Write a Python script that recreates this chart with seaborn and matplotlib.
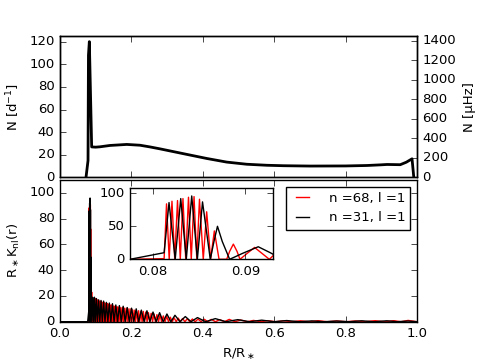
import numpy as np
import pandas as pd
import seaborn as sns
from matplotlib import pyplot as plt

plt.style.use('classic')
plt.rcParams.update({'figure.facecolor': 'white', 'savefig.facecolor': 'white',
                     'font.family': 'DejaVu Sans', 'font.size': 9.5,
                     'mathtext.fontset': 'dejavusans', 'mathtext.default': 'regular'})

# Brunt-Vaisala frequency profile (d^-1) vs fractional radius
n_r = [0.0728, 0.0785, 0.0797, 0.0822, 0.0887, 0.1000, 0.1120, 0.1400, 0.1870, 0.2240,
       0.2520, 0.2800, 0.3460, 0.4110, 0.4670, 0.5230, 0.5790, 0.6260, 0.7000, 0.8000,
       0.8600, 0.9000, 0.9160, 0.9530, 0.9700, 0.9860, 0.9910]
n_val = [0, 15, 108, 120, 27, 26.8, 27.1, 28.3, 29.2, 28.5,
         27.0, 25.3, 21.0, 16.8, 13.6, 11.7, 10.8, 10.4, 10.1, 10.2,
         10.6, 11.2, 11.5, 11.3, 13.5, 16.5, 0]
d_to_muhz = 11.574

# kernel n=68, l=1 (red): maxima and nodes
red_peak_r = [0.0812, 0.08146, 0.08205, 0.08265, 0.08324, 0.08384, 0.08444, 0.08503, 0.08581,
              0.08664, 0.0883, 0.0887, 0.0891, 0.0902, 0.0910, 0.0918, 0.0938,
              0.0962, 0.0987, 0.1013, 0.1040, 0.1068, 0.1097, 0.1127, 0.1158, 0.1190, 0.1223,
              0.1257, 0.1292, 0.1328, 0.1365, 0.1403, 0.1442, 0.1482, 0.1524, 0.1567, 0.1611,
              0.1656, 0.1703, 0.1751, 0.1801, 0.1853, 0.1906, 0.1961, 0.2018, 0.2077, 0.2138,
              0.2201, 0.2266, 0.2334, 0.2404, 0.2477, 0.2553, 0.2632, 0.2715, 0.2802, 0.2893,
              0.2989, 0.3090, 0.3197, 0.3311, 0.3433, 0.3565, 0.3708, 0.3865, 0.4040, 0.4240,
              0.4470, 0.4740, 0.5060, 0.5420, 0.5820, 0.6260, 0.6730, 0.7230, 0.7750, 0.8280,
              0.8820, 0.9350, 0.9750]
red_peak_k = [1, 84, 88, 89, 92, 94, 95, 91, 72,
              43, 12, 23, 12, 9, 18, 9, 16,
              18, 18, 17.5, 17, 16.5, 16, 16, 15.5, 15, 15,
              14.5, 14, 14, 13.5, 13, 13, 12.5, 12, 12, 11.5,
              11.5, 11, 11, 10.5, 10.5, 10, 10, 9.5, 9, 9,
              8.5, 8, 8, 7.5, 7, 6.5, 6, 5.5, 5, 4.5,
              4, 3.5, 3, 2.8, 2.5, 2.3, 2.1, 2, 1.9, 1.8,
              1.6, 1.8, 1.3, 1.0, 0.8, 0.7, 0.7, 0.8, 0.6, 0.6,
              0.8, 0.8, 1.0]
red_nodes = [0.0, 0.0775, 0.08175, 0.08235, 0.08295, 0.08354, 0.08414, 0.08474, 0.08544,
             0.08624, 0.08715, 0.08798, 0.08942, 0.0926, 0.0950,
             0.0975, 0.1000, 0.1026, 0.1054, 0.1082, 0.1112, 0.1142, 0.1174, 0.1206, 0.1240,
             0.1274, 0.1310, 0.1346, 0.1384, 0.1422, 0.1462, 0.1503, 0.1545, 0.1589, 0.1633,
             0.1680, 0.1727, 0.1776, 0.1827, 0.1880, 0.1933, 0.1990, 0.2047, 0.2107, 0.2170,
             0.2233, 0.2300, 0.2369, 0.2440, 0.2515, 0.2592, 0.2673, 0.2758, 0.2847, 0.2941,
             0.3040, 0.3143, 0.3254, 0.3372, 0.3499, 0.3636, 0.3786, 0.3952, 0.4140, 0.4355,
             0.4605, 0.4900, 0.5240, 0.5620, 0.6040, 0.6495, 0.6980, 0.7490, 0.8015, 0.8550,
             0.9085, 0.9550, 1.0]

# kernel n=31, l=1 (black)
blk_peak_r = [0.0812, 0.08173, 0.08300, 0.08419, 0.08536, 0.0866, 0.08698, 0.0875, 0.0897,
              0.0914, 0.0927, 0.0965, 0.1020, 0.1082, 0.1150, 0.1222, 0.1300, 0.1382, 0.1470,
              0.1563, 0.1663, 0.1770, 0.1883, 0.2004, 0.2135, 0.2278, 0.2435, 0.2605, 0.2790,
              0.2995, 0.3220, 0.3510, 0.3850, 0.4350, 0.4980, 0.5650, 0.6350, 0.7050, 0.7750,
              0.8450, 0.9150, 0.9750]
blk_peak_k = [10, 86, 92, 96, 87, 27, 50, 27, 9,
              19, 10, 19, 18, 17, 16.5, 16, 15, 14.5, 14,
              13, 12.5, 12, 11, 10.5, 10, 9, 8.5, 7.5, 7,
              6, 5, 4, 3.2, 2.4, 1.6, 1.2, 0.9, 0.6, 0.5,
              0.7, 0.7, 0.5]
blk_nodes = [0.0, 0.0775, 0.0824, 0.0836, 0.0848, 0.0862, 0.0883, 0.0940, 0.0992, 0.1050,
             0.1115, 0.1185, 0.1260, 0.1340, 0.1425, 0.1515, 0.1612, 0.1715, 0.1825, 0.1942,
             0.2068, 0.2205, 0.2355, 0.2518, 0.2695, 0.2890, 0.3105, 0.3360, 0.3670, 0.4080,
             0.4650, 0.5310, 0.6000, 0.6700, 0.7400, 0.8100, 0.8800, 0.9450, 1.0]


def kernel(peak_r, peak_k, nodes):
    df = pd.DataFrame({'r': list(peak_r) + list(nodes),
                       'k': list(peak_k) + [0.0] * len(nodes)})
    return df.sort_values('r').reset_index(drop=True)


red = kernel(red_peak_r, red_peak_k, red_nodes)
blk = kernel(blk_peak_r, blk_peak_k, blk_nodes)
bv = pd.DataFrame({'r': n_r, 'N': n_val})

fig = plt.figure(figsize=(4.8, 3.62), dpi=100)
ax_top = fig.add_axes([0.125, 0.5097, 0.7438, 0.3909])
ax_bot = fig.add_axes([0.125, 0.1113, 0.7438, 0.3915])
ax_in = fig.add_axes([0.2708, 0.2837, 0.298, 0.1978])

# top panel
sns.lineplot(data=bv, x='r', y='N', color='k', lw=2, ax=ax_top, estimator=None, sort=False)
ax_top.set_xlim(0, 1)
ax_top.set_ylim(0, 125)
ax_top.set_yticks(np.arange(0, 121, 20))
ax_top.set_xticks(np.arange(0, 1.01, 0.2))
ax_top.set_xticklabels([])
ax_top.set_xlabel('')
ax_top.set_ylabel('N [d$^{-1}$]')
ax_top.tick_params(right=False)
tw = ax_top.twinx()
tw.set_ylim(0, 125 * d_to_muhz)
tw.set_yticks(np.arange(0, 1401, 200))
tw.set_ylabel('N [μHz]')
tw.tick_params(left=False)

# bottom panel
sns.lineplot(data=red, x='r', y='k', color='r', lw=1, ax=ax_bot, estimator=None,
             label='n =68, l =1')
sns.lineplot(data=blk, x='r', y='k', color='k', lw=1, ax=ax_bot, estimator=None,
             label='n =31, l =1')
ax_bot.set_xlim(0, 1)
ax_bot.set_ylim(0, 110)
ax_bot.set_xticks(np.arange(0, 1.01, 0.2))
ax_bot.set_yticks(np.arange(0, 101, 20))
ax_bot.set_xlabel('R/R$_\\ast$')
ax_bot.set_ylabel('R$_\\ast$K$_{nl}$(r)')
ax_bot.legend(loc='upper right', handlelength=1.6, handletextpad=1.2, fontsize=9.5,
              borderaxespad=0.5)

# inset zoom on the spike
sns.lineplot(data=red, x='r', y='k', color='r', lw=1, ax=ax_in, estimator=None, legend=False)
sns.lineplot(data=blk, x='r', y='k', color='k', lw=1, ax=ax_in, estimator=None, legend=False)
ax_in.set_xlim(0.0775, 0.093)
ax_in.set_ylim(0, 108.5)
ax_in.set_xticks([0.08, 0.09])
ax_in.set_yticks([0, 50, 100])
ax_in.set_xlabel('')
ax_in.set_ylabel('')

fig.savefig('out.png', dpi=100)
